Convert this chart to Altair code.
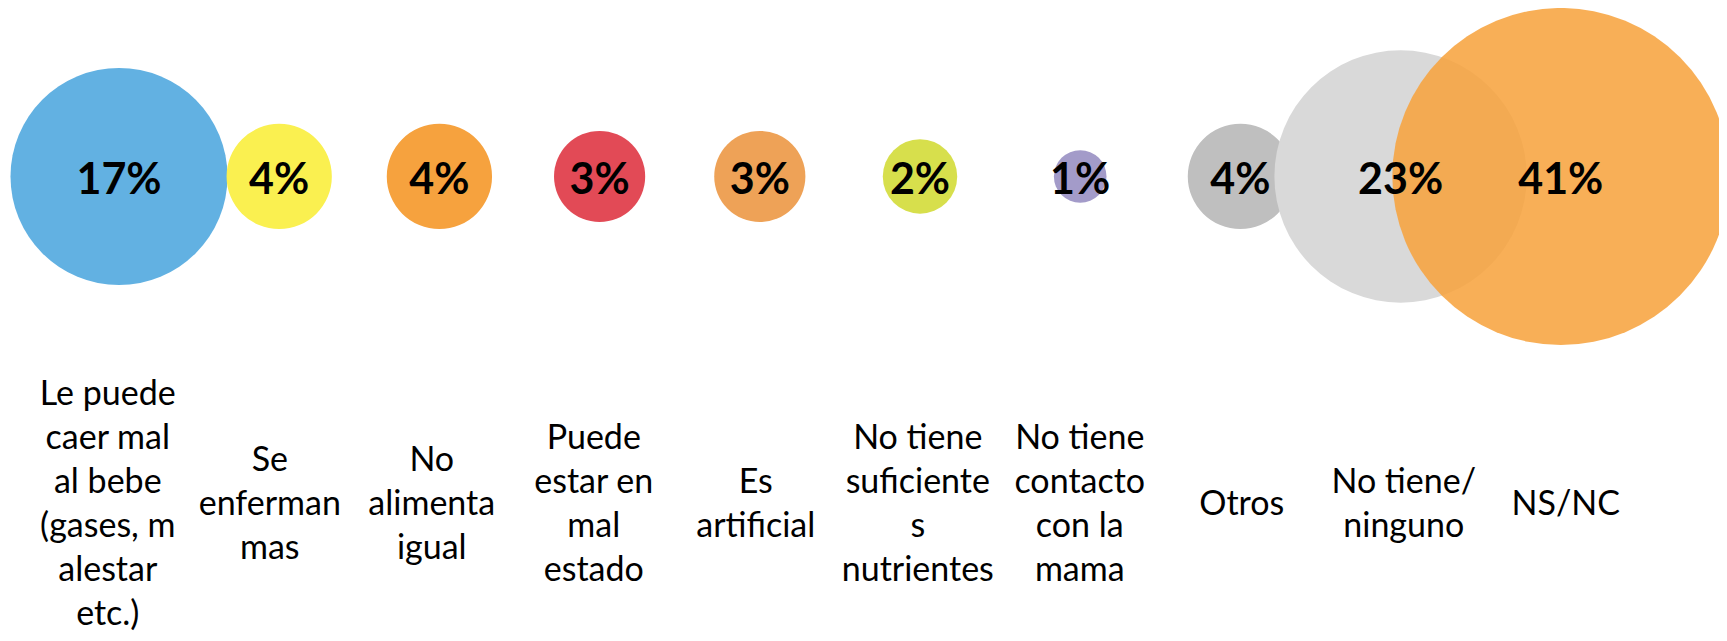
import altair as alt
import pandas as pd

# ---- data -------------------------------------------------------------
CATEGORIES = [
    "Le puede caer mal al bebe (gases, malestar etc.)",
    "Se enferman mas",
    "No alimenta igual",
    "Puede estar en mal estado",
    "Es artificial",
    "No tiene suficientes nutrientes",
    "No tiene contacto con la mama",
    "Otros",
    "No tiene/ ninguno",
    "NS/NC",
]
LABEL_LINES = [
    ["Le puede", "caer mal", "al bebe", "(gases, m", "alestar", "etc.)"],
    ["Se", "enferman", "mas"],
    ["No", "alimenta", "igual"],
    ["Puede", "estar en", "mal", "estado"],
    ["Es", "artificial"],
    ["No tiene", "suficiente", "s", "nutrientes"],
    ["No tiene", "contacto", "con la", "mama"],
    ["Otros"],
    ["No tiene/", "ninguno"],
    ["NS/NC"],
]
VALUES = [17, 4, 4, 3, 3, 2, 1, 4, 23, 41]
X_VALUES = [1, 2, 3, 4, 5, 6, 7, 8, 9, 10]
Y_VALUES = [1, 1, 1, 1, 1, 1, 1, 1, 1, 1]

# ---- styles -----------------------------------------------------------
COLORS = [
    "#62B1E2", "#FAF050", "#F6A23E", "#E24A56", "#EEA257",
    "#D7DF4C", "#A39BC9", "#BFBFBF", "#D9D9D9", "rgba(247,163,62,0.87)",
]

df = pd.DataFrame({"x": X_VALUES, "y": Y_VALUES, "valor": VALUES, "cat": CATEGORIES})

# one row per label line; "row" = line position relative to the block centre
rows = []
for xv, lines in zip(X_VALUES, LABEL_LINES):
    n = len(lines)
    for i, ln in enumerate(lines):
        rows.append({"x": xv, "row": (n - 1) / 2 - i, "txt": ln})
labels_df = pd.DataFrame(rows)

base = alt.Chart(df).encode(
    x=alt.X("x:Q", scale=alt.Scale(domain=[0.3071, 10.9875], nice=False, zero=False), axis=None),
    y=alt.Y("y:Q", scale=alt.Scale(domain=[0, 1.369], nice=False, zero=False), axis=None),
)

circles = base.mark_circle(opacity=1).encode(
    color=alt.Color("cat:N", scale=alt.Scale(domain=CATEGORIES, range=COLORS), legend=None),
    size=alt.Size("valor:Q", scale=alt.Scale(domain=[0, 41], range=[0, 113569]), legend=None),
)

texts = base.mark_text(font="Lato", fontWeight="bold", fontSize=43, dy=5, color="black").transform_calculate(
    pct="datum.valor + '%'"
).encode(text="pct:N")

cat_labels = alt.Chart(labels_df).mark_text(
    font="Lato", fontSize=34, color="black", align="center", baseline="middle"
).encode(
    x=alt.X("x:Q", scale=alt.Scale(domain=[0.384, 10.946], nice=False, zero=False), axis=None),
    y=alt.Y("row:Q", scale=alt.Scale(domain=[-2.898, 11.307], nice=False, zero=False), axis=None),
    text="txt:N",
)

chart = alt.layer(circles, texts, cat_labels).resolve_scale(x="independent", y="independent").properties(
    width=1711, height=625, autosize=alt.AutoSizeParams(type="none"), padding=0
).configure_view(stroke="transparent")

chart.save("out.html", embed_options={"renderer": "svg", "actions": False})
